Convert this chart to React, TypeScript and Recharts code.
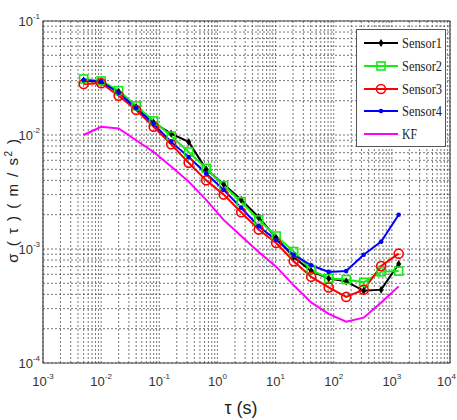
import React from "react";
import {
  LineChart,
  Line,
  XAxis,
  YAxis,
  CartesianGrid,
  ReferenceArea,
  Legend,
} from "recharts";

// averaging time (s)
const tau = [
  0.005, 0.01, 0.02, 0.04, 0.08, 0.16, 0.32, 0.64, 1.28, 2.56, 5.12, 10.24,
  20.48, 40.96, 81.92, 163.84, 327.68, 655.36, 1310.72,
];

// Allan deviation (m/s^2)
const sensor1 = [
  0.03, 0.0292, 0.024, 0.0176, 0.0128, 0.0103, 0.0087, 0.005, 0.0037, 0.0027,
  0.0019, 0.00125, 0.00085, 0.00064, 0.00055, 0.00052, 0.00043, 0.00044,
  0.00074,
];
const sensor2 = [
  0.031, 0.0298, 0.0245, 0.018, 0.0133, 0.0098, 0.0071, 0.0051, 0.0036, 0.0026,
  0.0018, 0.0013, 0.00095, 0.00066, 0.00055, 0.00054, 0.00051, 0.00063,
  0.00064,
];
const sensor3 = [
  0.028, 0.0285, 0.0221, 0.0166, 0.0118, 0.0083, 0.0057, 0.004, 0.003, 0.0021,
  0.00148, 0.00113, 0.00078, 0.00057, 0.00046, 0.00038, 0.00044, 0.00071,
  0.00091,
];
const sensor4 = [
  0.0303, 0.0294, 0.0235, 0.0172, 0.0125, 0.0087, 0.0064, 0.0046, 0.0033,
  0.0023, 0.00158, 0.0012, 0.00089, 0.00072, 0.00063, 0.00064, 0.00089,
  0.00116, 0.002,
];
const kf = [
  0.01, 0.0118, 0.0114, 0.009, 0.0071, 0.0053, 0.0039, 0.0027, 0.0018, 0.0013,
  0.00094, 0.0007, 0.00048, 0.00034, 0.00027, 0.00023, 0.00025, 0.00034,
  0.00047,
];

// axis decades
const xDecades = [-3, -2, -1, 0, 1, 2, 3];
const yDecades = [-4, -3, -2];
const mantissas = [1, 2, 3, 4, 5, 6, 7, 8, 9];

const xTicks = [
  ...xDecades.flatMap((e) => mantissas.map((m) => m * Math.pow(10, e))),
  1e4,
];
const yTicks = [
  ...yDecades.flatMap((e) => mantissas.map((m) => m * Math.pow(10, e))),
  0.1,
];

const data = tau.map((t, i) => ({
  tau: t,
  s1: sensor1[i],
  s2: sensor2[i],
  s3: sensor3[i],
  s4: sensor4[i],
  kf: kf[i],
}));

const decadeOf = (v: number) => {
  const e = Math.round(Math.log10(v));
  return Math.abs(v - Math.pow(10, e)) < 1e-9 * v ? e : null;
};

const sans = { fontFamily: "'Liberation Sans', Arial, sans-serif" };
const serif = { fontFamily: "'Liberation Serif', 'Times New Roman', serif" };

const XTick = (props: any) => {
  const e = decadeOf(props.payload.value);
  if (e === null) return <g />;
  // last label sits at the right edge of the figure
  const last = e === 4;
  return (
    <text
      x={last ? props.x + 6 : props.x}
      y={386}
      textAnchor={last ? "end" : "middle"}
      style={sans}
      fontSize={13}
      fill="#333"
    >
      <tspan>10</tspan>
      <tspan dy={-7} fontSize={8}>
        {e}
      </tspan>
    </text>
  );
};

const YTick = (props: any) => {
  const e = decadeOf(props.payload.value);
  if (e === null) return <g />;
  return (
    <text
      x={40}
      y={props.y + 5}
      textAnchor="end"
      style={sans}
      fontSize={13}
      fill="#333"
    >
      <tspan>10</tspan>
      <tspan dy={-7} fontSize={8}>
        {e}
      </tspan>
    </text>
  );
};

const StarDot = (props: any) => {
  const { cx, cy } = props;
  return (
    <polygon
      points={`${cx},${cy - 4} ${cx + 2.5},${cy} ${cx},${cy + 4} ${cx - 2.5},${cy}`}
      fill="#000"
    />
  );
};
const SquareDot = (props: any) => {
  const { cx, cy } = props;
  return (
    <rect
      x={cx - 4}
      y={cy - 4}
      width={8}
      height={8}
      fill="none"
      stroke="#11ee11"
      strokeWidth={1.6}
    />
  );
};
const CircleDot = (props: any) => {
  const { cx, cy } = props;
  return <circle cx={cx} cy={cy} r={4.5} fill="none" stroke="#ff0000" strokeWidth={1.6} />;
};
const PointDot = (props: any) => {
  const { cx, cy } = props;
  return <circle cx={cx} cy={cy} r={2.3} fill="#0000ff" />;
};

const series = [
  { key: "s1", name: "Sensor1", color: "#000000", dot: StarDot },
  { key: "s2", name: "Sensor2", color: "#11ee11", dot: SquareDot },
  { key: "s3", name: "Sensor3", color: "#ff0000", dot: CircleDot },
  { key: "s4", name: "Sensor4", color: "#0000ff", dot: PointDot },
  { key: "kf", name: "KF", color: "#ff00ff", dot: null },
];

const legendRows = [14, 37, 60, 82, 105];

const LegendBox = () => (
  <svg width={100} height={119} style={{ overflow: "visible" }}>
    <rect x={0.5} y={0.5} width={89} height={117} fill="#fff" stroke="#555" />
    {series.map((s, i) => {
      const y = legendRows[i];
      const Dot = s.dot;
      return (
        <g key={s.key}>
          <line x1={8} x2={42} y1={y} y2={y} stroke={s.color} strokeWidth={2} />
          {Dot && <Dot cx={25} cy={y} />}
          <text
            x={46}
            y={y + 5}
            style={serif}
            fontSize={15}
            textLength={s.name === "KF" ? 15 : 40}
            lengthAdjust="spacingAndGlyphs"
            fill="#222"
          >
            {s.name}
          </text>
        </g>
      );
    })}
  </svg>
);

export default function App() {
  return (
    <div style={{ position: "absolute", left: 0, top: 0, background: "#fff" }}>
      <LineChart
        width={457}
        height={420}
        data={data}
        margin={{ top: 21, right: 7, left: 0, bottom: 0 }}
      >
        <CartesianGrid stroke="#555" strokeDasharray="2 2" strokeWidth={0.8} />
        <XAxis
          dataKey="tau"
          type="number"
          scale="log"
          domain={[0.001, 10000]}
          ticks={xTicks}
          interval={0}
          tick={<XTick />}
          tickLine={false}
          axisLine={false}
          height={57}
          allowDataOverflow
        />
        <YAxis
          type="number"
          scale="log"
          domain={[0.0001, 0.1]}
          ticks={yTicks}
          interval={0}
          tick={<YTick />}
          tickLine={false}
          axisLine={false}
          width={43}
          allowDataOverflow
        />
        <ReferenceArea
          x1={0.001}
          x2={10000}
          y1={0.0001}
          y2={0.1}
          fill="none"
          fillOpacity={0}
          stroke="#444"
          strokeWidth={1.2}
          ifOverflow="visible"
        />
        {series.map((s) => (
          <Line
            key={s.key}
            dataKey={s.key}
            name={s.name}
            stroke={s.color}
            strokeWidth={2}
            dot={s.dot ? <s.dot /> : false}
            activeDot={false}
            isAnimationActive={false}
          />
        ))}
        <Legend
          layout="horizontal"
          verticalAlign="middle"
          align="center"
          content={<LegendBox />}
          wrapperStyle={{ position: "absolute", left: 356, top: 29, width: 100, height: 119 }}
        />
        <text
          transform="rotate(-90, 18, 200)"
          x={18}
          y={200}
          textAnchor="middle"
          style={sans}
          fontSize={15}
          fill="#222"
          letterSpacing={1.5}
        >
          <tspan>σ ( τ ) ( m / s</tspan>
          <tspan dy={-6} fontSize={10}>2</tspan>
          <tspan dy={6}> )</tspan>
        </text>
        <text
          x={241}
          y={414}
          textAnchor="middle"
          style={sans}
          fontSize={18}
          fill="#222"
        >
          τ (s)
        </text>
      </LineChart>
    </div>
  );
}
